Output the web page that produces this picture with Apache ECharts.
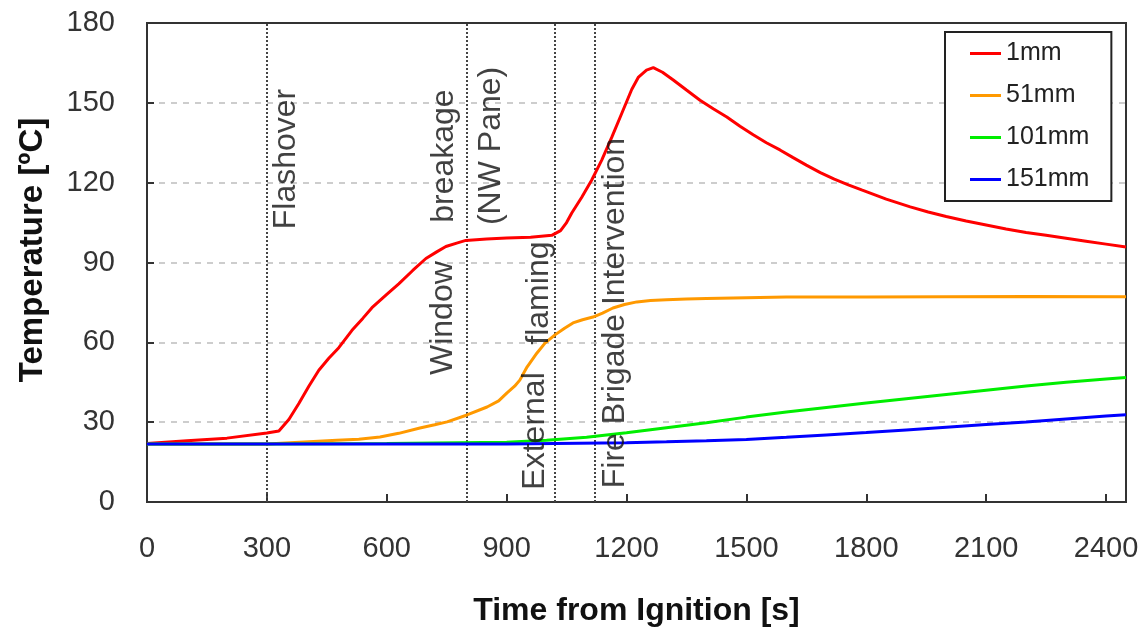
<!DOCTYPE html>
<html>
<head>
<meta charset="utf-8">
<script src="https://cdn.jsdelivr.net/npm/echarts@6/dist/echarts.min.js"></script>
<style>
html,body{margin:0;padding:0;background:#fff;}
#chart{width:1147px;height:637px;}
</style>
</head>
<body>
<div id="chart"></div>
<script>
// ---- data ----
const seriesNames = ['1mm', '51mm', '101mm', '151mm'];

const time1mm = [0,100,200,300,330,355,380,405,430,455,480,513,540,563,600,630,665,698,725,748,775,798,850,900,960,1013,1035,1050,1063,1088,1113,1138,1163,1188,1213,1230,1250,1267,1290,1317,1350,1384,1417,1451,1484,1517,1550,1584,1617,1650,1685,1720,1755,1790,1850,1910,1955,2000,2050,2100,2150,2200,2250,2300,2350,2400,2450];
const temp1mm = [22,23,24,25.9,26.7,31,37,43.5,49.5,54,58,64.5,69,73,78,82,87,91.5,94,96,97.3,98.3,98.8,99.2,99.5,100.2,102,105,108.6,114.5,121,128.5,137,146,155,159.7,162.3,163.2,161.5,158.6,154.8,151,147.8,144.7,141.2,138,135,132.3,129.4,126.6,123.8,121.3,119.2,117.2,113.8,110.9,109,107.3,105.6,104.1,102.6,101.3,100.2,99.1,98,96.9,95.8];

const time51mm = [0,300,475,530,583,630,683,720,751,801,851,880,901,920,933,951,976,996,1021,1045,1066,1090,1116,1140,1166,1195,1226,1260,1300,1350,1400,1500,1600,1800,2000,2200,2450];
const temp51mm = [21.8,21.8,23.2,23.6,24.4,25.8,27.8,29,30.1,32.7,35.7,38,41,43.5,45.8,50.7,56,59.7,62.8,65.3,67.3,68.5,69.5,71,72.9,74.2,75.2,75.7,76,76.3,76.5,76.8,77,77,77.1,77.2,77.1];

const time101mm = [0,300,600,900,1000,1100,1200,1300,1400,1500,1600,1700,1800,1900,2000,2100,2200,2300,2400,2450];
const temp101mm = [21.8,21.8,22,22.5,23.2,24.3,26,27.9,29.8,31.9,33.8,35.5,37.2,38.8,40.4,42,43.6,45,46.2,46.8];

const time151mm = [0,300,600,900,1200,1300,1400,1500,1600,1700,1800,1900,2000,2100,2200,2300,2400,2450];
const temp151mm = [21.8,21.8,21.8,21.8,22.3,22.6,23,23.5,24.3,25.2,26.1,27.1,28.1,29.1,30.1,31.2,32.3,32.8];

const eventTimes = [300, 800, 1020, 1120];

const noteTexts = ['Flashover', 'breakage', 'Window', '(NW Pane)', 'flaming', 'External', 'Fire Brigade Intervention'];
const noteTimes = [348, 743, 741, 861, 981, 971, 1171];
const noteTemps = [128.9, 130, 69.1, 133.8, 78.5, 26.7, 71];

const xTicks = [0,300,600,900,1200,1500,1800,2100,2400];
const yTicks = [0,30,60,90,120,150,180];

// ---- chart ----
const colors = ['#ff0000', '#ff9900', '#00ee00', '#0000ff'];
const times = [time1mm, time51mm, time101mm, time151mm];
const temps = [temp1mm, temp51mm, temp101mm, temp151mm];
const FONT = '"Liberation Sans", Arial, sans-serif';

const lineSeries = seriesNames.map((name, i) => ({
  name: name,
  type: 'line',
  data: times[i].map((t, k) => [t, temps[i][k]]),
  showSymbol: false,
  symbol: 'none',
  lineStyle: { width: 3, color: colors[i] },
  itemStyle: { color: colors[i] },
  z: 3 + i
}));

lineSeries[0].markLine = {
  silent: true,
  symbol: ['none', 'none'],
  label: { show: false },
  lineStyle: { type: [2, 2], color: '#444', width: 2 },
  data: eventTimes.map(t => ({ xAxis: t })),
  z: 2
};

const noteSeries = {
  type: 'scatter',
  silent: true,
  symbolSize: 0,
  z: 10,
  data: noteTimes.map((t, k) => ({ value: [t, noteTemps[k]], name: noteTexts[k] })),
  label: {
    show: true,
    position: 'inside',
    rotate: 90,
    align: 'center',
    verticalAlign: 'middle',
    formatter: p => p.name,
    fontFamily: FONT,
    fontSize: 32,
    color: '#111'
  }
};

const chart = echarts.init(document.getElementById('chart'), null, { renderer: 'canvas' });
chart.setOption({
  animation: false,
  backgroundColor: '#ffffff',
  grid: {
    left: 147, right: 21, top: 23, bottom: 135,
    show: true, borderColor: '#333', borderWidth: 2, backgroundColor: '#fff'
  },
  legend: {
    data: seriesNames,
    orient: 'vertical',
    left: 945, top: 32,
    padding: [9, 22, 9, 25],
    itemGap: 17,
    itemWidth: 31, itemHeight: 3,
    icon: 'rect',
    borderColor: '#222', borderWidth: 2,
    backgroundColor: '#fff',
    textStyle: { fontFamily: FONT, fontSize: 25, color: '#222', padding: [0, 0, 0, 0] }
  },
  xAxis: {
    type: 'value',
    min: 0, max: 2450, interval: 300,
    name: 'Time from Ignition [s]',
    nameLocation: 'middle',
    nameGap: 93,
    nameTextStyle: { fontFamily: FONT, fontSize: 32, fontWeight: 'bold', color: '#111' },
    axisLine: { show: true, lineStyle: { color: '#333', width: 2 } },
    axisTick: { show: true, inside: true, length: 8, lineStyle: { color: '#333', width: 2 } },
    axisLabel: {
      margin: 32, fontFamily: FONT, fontSize: 29, color: '#333',
      formatter: v => (xTicks.indexOf(v) >= 0 ? String(v) : '')
    },
    splitLine: { show: false }
  },
  yAxis: {
    type: 'value',
    min: 0, max: 180, interval: 30,
    name: 'Temperature [ºC]',
    nameLocation: 'middle',
    nameGap: 98,
    nameTextStyle: { fontFamily: FONT, fontSize: 33, fontWeight: 'bold', color: '#111', padding: [0, 0, 0, 25] },
    axisLine: { show: true, lineStyle: { color: '#333', width: 2 } },
    axisTick: { show: true, inside: true, length: 7, lineStyle: { color: '#333', width: 2 } },
    axisLabel: {
      margin: 32, fontFamily: FONT, fontSize: 29, color: '#333',
      formatter: v => (yTicks.indexOf(v) >= 0 ? String(v) : '')
    },
    splitLine: { show: true, showMinLine: false, showMaxLine: false, lineStyle: { type: [6, 6], color: '#bdbdbd', width: 1.5 } }
  },
  series: lineSeries.concat([noteSeries])
});
</script>
</body>
</html>
